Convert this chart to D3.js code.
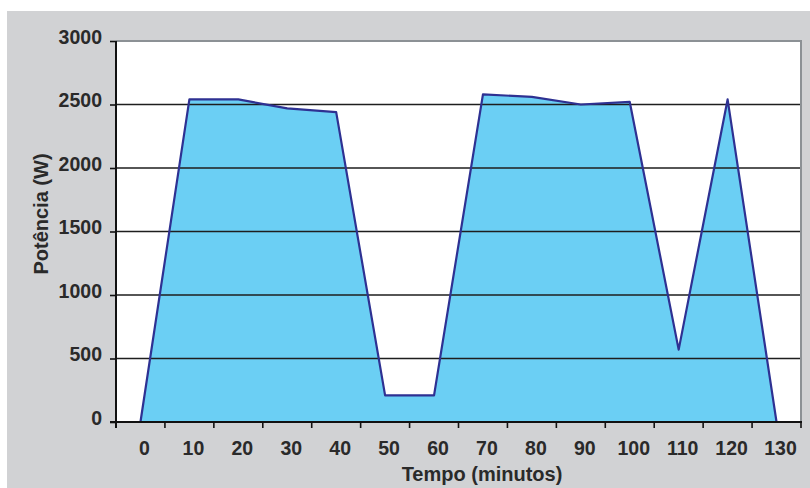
<!DOCTYPE html>
<html>
<head>
<meta charset="utf-8">
<script src="https://cdn.jsdelivr.net/npm/d3@7"></script>
<style>
  html, body { margin: 0; padding: 0; background: #ffffff; }
  svg { display: block; }
  text { font-family: "Liberation Sans", Arial, sans-serif; font-weight: bold; fill: #2a2a2a; }
</style>
</head>
<body>
<svg id="chart" width="810" height="488"></svg>
<script>
// Time categories (minutes) and measured power (W)
const tempo = [0, 10, 20, 30, 40, 50, 60, 70, 80, 90, 100, 110, 120, 130];
const potencia = [0, 2540, 2540, 2470, 2440, 210, 210, 2580, 2560, 2500, 2520, 570, 2540, 0];
const yTicks = [0, 500, 1000, 1500, 2000, 2500, 3000];

const svg = d3.select("#chart");
const W = 810, H = 488;
const plot = { left: 116, right: 801, top: 41, bottom: 422 };

// Gray frame
svg.append("rect")
  .attr("x", 7).attr("y", 11)
  .attr("width", W - 7).attr("height", H - 11)
  .attr("fill", "#d1d2d4");

// Plot area
svg.append("rect")
  .attr("x", plot.left).attr("y", plot.top)
  .attr("width", plot.right - plot.left).attr("height", plot.bottom - plot.top)
  .attr("fill", "#ffffff");

const x = d3.scaleBand().domain(tempo).range([plot.left, plot.right]).padding(0);
const y = d3.scaleLinear().domain([0, 3000]).range([plot.bottom, plot.top]);
const cx = d => x(d) + x.bandwidth() / 2;

const pts = tempo.map((t, i) => ({ t, v: potencia[i] }));

// Filled area
svg.append("path")
  .datum(pts)
  .attr("fill", "#6bcff4")
  .attr("d", d3.area().x(d => cx(d.t)).y0(y(0)).y1(d => y(d.v)));

// Horizontal gridlines
svg.append("g")
  .selectAll("line")
  .data(yTicks.filter(v => v > 0 && v < 3000))
  .join("line")
  .attr("x1", plot.left).attr("x2", plot.right)
  .attr("y1", d => y(d)).attr("y2", d => y(d))
  .attr("stroke", "#1e1e1e")
  .attr("stroke-width", 1.6);

// Plot border (top and right)
svg.append("path")
  .attr("d", `M${plot.left},${plot.top}H${plot.right}V${plot.bottom}`)
  .attr("fill", "none")
  .attr("stroke", "#8c9195")
  .attr("stroke-width", 2);

// Series line
svg.append("path")
  .datum(pts)
  .attr("fill", "none")
  .attr("stroke", "#2e3192")
  .attr("stroke-width", 2.2)
  .attr("stroke-linejoin", "round")
  .attr("d", d3.line().x(d => cx(d.t)).y(d => y(d.v)));

// Y axis
const yAxis = svg.append("g")
  .attr("transform", `translate(${plot.left},0)`)
  .call(d3.axisLeft(y).tickValues(yTicks).tickFormat(d3.format("d"))
    .tickSize(6).tickSizeOuter(0).tickPadding(10));
yAxis.select(".domain").attr("stroke", "#111").attr("stroke-width", 2)
  .attr("d", `M0,${plot.top}V${plot.bottom + 6}`);
yAxis.selectAll(".tick line").attr("stroke", "#111").attr("stroke-width", 1.6);
yAxis.selectAll(".tick text")
  .attr("font-size", 19.5)
  .attr("font-family", "Liberation Sans, Arial, sans-serif")
  .attr("font-weight", "bold")
  .attr("fill", "#2a2a2a")
  .attr("dy", "0.12em")
  .attr("x", -14);

// X axis: ticks on category boundaries, labels centred in each category
const xAxisG = svg.append("g").attr("transform", `translate(0,${plot.bottom})`);
xAxisG.append("line")
  .attr("x1", plot.left - 6).attr("x2", plot.right + 1)
  .attr("stroke", "#111").attr("stroke-width", 2);
const bounds = tempo.map(t => x(t)).concat([plot.right]);
xAxisG.selectAll("line.tk")
  .data(bounds)
  .join("line")
  .attr("class", "tk")
  .attr("x1", d => d).attr("x2", d => d)
  .attr("y1", 0).attr("y2", 6)
  .attr("stroke", "#111").attr("stroke-width", 1.6);
xAxisG.selectAll("text")
  .data(tempo)
  .join("text")
  .attr("x", d => cx(d) + 4)
  .attr("y", 33)
  .attr("text-anchor", "middle")
  .attr("font-size", 19.5)
  .text(d => d);

// Axis titles
svg.append("text")
  .attr("x", 482).attr("y", 481)
  .attr("text-anchor", "middle")
  .attr("font-size", 20)
  .text("Tempo (minutos)");

svg.append("text")
  .attr("transform", "translate(48,214) rotate(-90)")
  .attr("text-anchor", "middle")
  .attr("font-size", 20)
  .text("Potência (W)");
</script>
</body>
</html>
